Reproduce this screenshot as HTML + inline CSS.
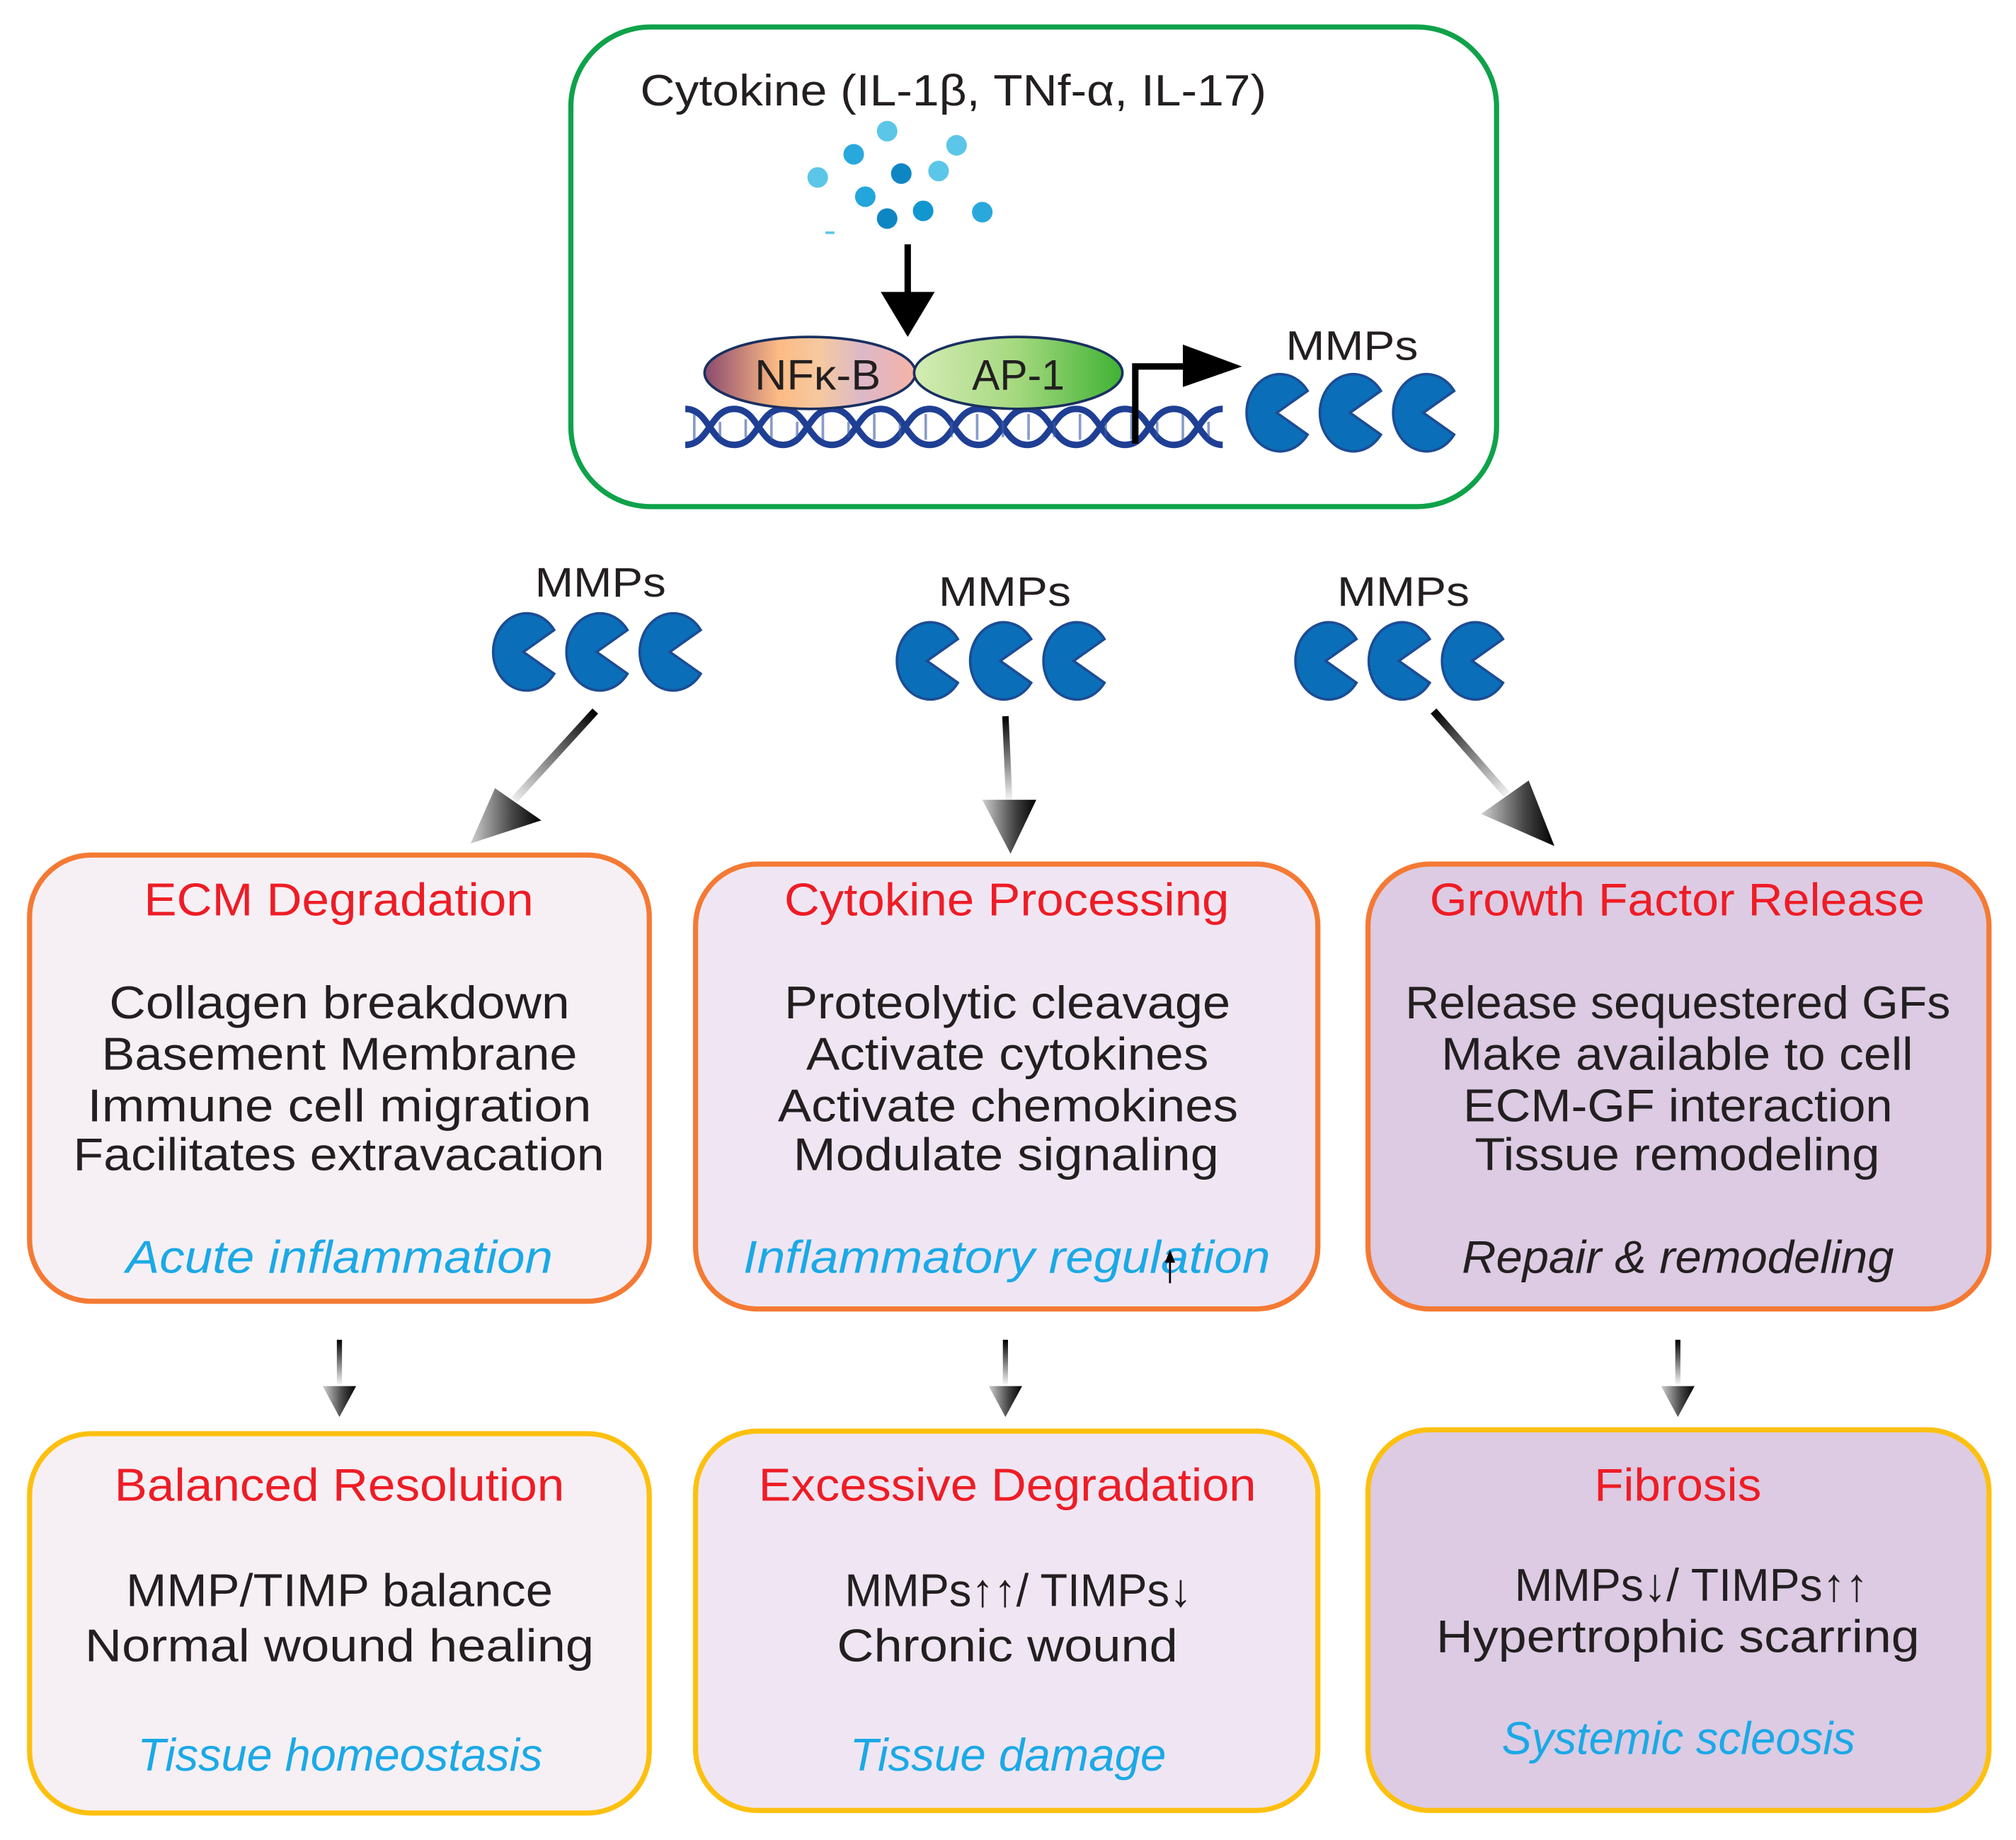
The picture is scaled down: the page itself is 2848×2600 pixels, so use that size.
<!DOCTYPE html>
<html><head><meta charset="utf-8"><style>
html,body{margin:0;padding:0;background:#fff;}
svg{display:block;}
text{font-family:"Liberation Sans",sans-serif;}
</style></head><body>
<svg width="2848" height="2600" viewBox="0 0 1568 1431" preserveAspectRatio="none" xmlns="http://www.w3.org/2000/svg">
<defs>
<linearGradient id="nfk" x1="0" x2="1" y1="0" y2="0">
<stop offset="0" stop-color="#8a4a6e"/><stop offset="0.35" stop-color="#fdbb84"/><stop offset="0.55" stop-color="#f5c9a0"/><stop offset="0.75" stop-color="#dcb8c8"/><stop offset="1" stop-color="#f7b3a6"/></linearGradient>
<linearGradient id="ap1" x1="0" x2="1" y1="0" y2="0">
<stop offset="0" stop-color="#d4ecb4"/><stop offset="0.5" stop-color="#a4d87e"/><stop offset="1" stop-color="#3fb234"/></linearGradient>
<linearGradient id="head" x1="0" x2="1" y1="0" y2="0">
<stop offset="0" stop-color="#cfcfcf"/><stop offset="0.6" stop-color="#444"/><stop offset="1" stop-color="#000"/></linearGradient>
<linearGradient id="g1" gradientUnits="userSpaceOnUse" x1="463" y1="553" x2="395" y2="627"><stop offset="0" stop-color="#000"/><stop offset="1" stop-color="#fff"/></linearGradient>
<linearGradient id="g2" gradientUnits="userSpaceOnUse" x1="782" y1="557" x2="785" y2="625"><stop offset="0" stop-color="#000"/><stop offset="1" stop-color="#fff"/></linearGradient>
<linearGradient id="g3" gradientUnits="userSpaceOnUse" x1="1115" y1="553" x2="1175" y2="622"><stop offset="0" stop-color="#000"/><stop offset="1" stop-color="#fff"/></linearGradient>
<linearGradient id="gs" gradientUnits="objectBoundingBox" x1="0" y1="0" x2="0" y2="1"><stop offset="0" stop-color="#000"/><stop offset="1" stop-color="#fff"/></linearGradient>
<g id="pac"><path d="M-2,0 L22,-17 A26,30 0 1 0 22,17 Z" fill="#0a6fb8" stroke="#1c4c95" stroke-width="2"/></g>
<g id="pacs"><use href="#pac" x="-57"/><use href="#pac" x="0"/><use href="#pac" x="57"/></g>
</defs>

<!-- top green box -->
<rect x="444" y="21" width="720" height="373" rx="62" fill="#fff" stroke="#0fa24a" stroke-width="4"/>
<text x="498" y="82" font-size="34" fill="#231f20" textLength="487" lengthAdjust="spacingAndGlyphs">Cytokine (IL-1β, TNf-α, IL-17)</text>
<g>
<circle cx="636" cy="138" r="8" fill="#5cc6e8"/>
<circle cx="664" cy="120" r="8" fill="#29a8dc"/>
<circle cx="690" cy="102" r="8" fill="#5cc6e8"/>
<circle cx="701" cy="135" r="8" fill="#0f86c4"/>
<circle cx="730" cy="133" r="8" fill="#5cc6e8"/>
<circle cx="744" cy="113" r="8" fill="#5cc6e8"/>
<circle cx="673" cy="153" r="8" fill="#22a6dc"/>
<circle cx="690" cy="170" r="8" fill="#0f86c4"/>
<circle cx="718" cy="164" r="8" fill="#1296d0"/>
<circle cx="764" cy="165" r="8" fill="#29a8dc"/>
<rect x="642" y="180" width="7" height="2" fill="#5cc6e8"/>
</g>
<line x1="706" y1="190" x2="706" y2="230" stroke="#000" stroke-width="5"/>
<polygon points="685,227 727,227 706,262" fill="#000"/>
<!-- DNA -->
<g fill="none" stroke="#1f3f94" stroke-width="5">
<path d="M533,318 C552,318 552,346 571,346 S590,318 609,318 S628,346 647,346 S666,318 685,318 S704,346 723,346 S742,318 761,318 S780,346 799,346 S818,318 837,318 S856,346 875,346 S894,318 913,318 S932,346 951,346"/>
<path d="M533,346 C552,346 552,318 571,318 S590,346 609,346 S628,318 647,318 S666,346 685,346 S704,318 723,318 S742,346 761,346 S780,318 799,318 S818,346 837,346 S856,318 875,318 S894,346 913,346 S932,318 951,318"/>
</g>
<g stroke="#3a5aa8" stroke-width="2" opacity="0.6">
<path d="M540,322v20M560,328v12M580,326v14M600,322v20M620,328v12M640,322v20M660,328v12M680,322v20M700,328v12M720,322v20M740,328v12M760,322v20M780,328v12M800,322v20M820,328v12M840,322v20M860,328v12M880,322v20M900,328v12M920,322v20M940,328v12"/>
</g>
<ellipse cx="630" cy="290" rx="82" ry="28" fill="url(#nfk)" stroke="#1a3060" stroke-width="2"/>
<ellipse cx="792" cy="290" rx="81" ry="28" fill="url(#ap1)" stroke="#1a3060" stroke-width="2"/>
<text x="636" y="303" font-size="33" text-anchor="middle" fill="#231f20" textLength="98" lengthAdjust="spacingAndGlyphs">NFκ-B</text>
<text x="792" y="303" font-size="33" text-anchor="middle" fill="#231f20" textLength="72" lengthAdjust="spacingAndGlyphs">AP-1</text>
<path d="M883,345 V285 H925" fill="none" stroke="#000" stroke-width="5"/>
<polygon points="920,268 966,285 920,301" fill="#000"/>
<text x="1000" y="280" font-size="32" fill="#231f20" textLength="103" lengthAdjust="spacingAndGlyphs">MMPs</text>
<use href="#pacs" x="1052" y="321"/>

<!-- MMP groups -->
<text x="416" y="464" font-size="32" fill="#231f20" textLength="102" lengthAdjust="spacingAndGlyphs">MMPs</text>
<use href="#pacs" x="466" y="507"/>
<text x="730" y="471" font-size="32" fill="#231f20" textLength="103" lengthAdjust="spacingAndGlyphs">MMPs</text>
<use href="#pacs" x="780" y="514"/>
<text x="1040" y="471" font-size="32" fill="#231f20" textLength="103" lengthAdjust="spacingAndGlyphs">MMPs</text>
<use href="#pacs" x="1090" y="514"/>

<!-- gradient arrows -->
<line x1="463" y1="553" x2="400" y2="622" stroke="url(#g1)" stroke-width="6"/>
<polygon points="385,613 421,638 366,656" fill="url(#head)"/>
<line x1="782" y1="557" x2="785" y2="625" stroke="url(#g2)" stroke-width="5"/>
<polygon points="764,622 806,622 786,664" fill="url(#head)"/>
<line x1="1115" y1="553" x2="1172" y2="618" stroke="url(#g3)" stroke-width="6"/>
<polygon points="1152,633 1189,607 1209,658" fill="url(#head)"/>

<!-- row 1 boxes -->
<rect x="23" y="665" width="482" height="347" rx="48" fill="#f6f0f5" stroke="#f47a34" stroke-width="4"/>
<rect x="541" y="672" width="484" height="346" rx="48" fill="#f0e6f3" stroke="#f47a34" stroke-width="4"/>
<rect x="1064" y="672" width="483" height="346" rx="48" fill="#dccbe3" stroke="#f47a34" stroke-width="4"/>
<!-- row 2 boxes -->
<rect x="23" y="1115" width="482" height="295" rx="48" fill="#f6f0f5" stroke="#fdc010" stroke-width="4"/>
<rect x="541" y="1113" width="484" height="295" rx="48" fill="#f0e6f3" stroke="#fdc010" stroke-width="4"/>
<rect x="1064" y="1112" width="483" height="296" rx="48" fill="#dccbe3" stroke="#fdc010" stroke-width="4"/>

<g font-size="36" fill="#ee1c25">
<text x="112" y="712" textLength="303" lengthAdjust="spacingAndGlyphs">ECM Degradation</text>
<text x="610" y="712" textLength="346" lengthAdjust="spacingAndGlyphs">Cytokine Processing</text>
<text x="1112" y="712" textLength="385" lengthAdjust="spacingAndGlyphs">Growth Factor Release</text>
<text x="89" y="1167" textLength="350" lengthAdjust="spacingAndGlyphs">Balanced Resolution</text>
<text x="590" y="1167" textLength="387" lengthAdjust="spacingAndGlyphs">Excessive Degradation</text>
<text x="1240" y="1167" textLength="130" lengthAdjust="spacingAndGlyphs">Fibrosis</text>
</g>
<g font-size="36" fill="#231f20">
<text x="85" y="792" textLength="358" lengthAdjust="spacingAndGlyphs">Collagen breakdown</text>
<text x="79" y="832" textLength="370" lengthAdjust="spacingAndGlyphs">Basement Membrane</text>
<text x="68" y="872" textLength="392" lengthAdjust="spacingAndGlyphs">Immune cell migration</text>
<text x="57" y="910" textLength="413" lengthAdjust="spacingAndGlyphs">Facilitates extravacation</text>
<text x="610" y="792" textLength="347" lengthAdjust="spacingAndGlyphs">Proteolytic cleavage</text>
<text x="627" y="832" textLength="313" lengthAdjust="spacingAndGlyphs">Activate cytokines</text>
<text x="605" y="872" textLength="358" lengthAdjust="spacingAndGlyphs">Activate chemokines</text>
<text x="617" y="910" textLength="331" lengthAdjust="spacingAndGlyphs">Modulate signaling</text>
<text x="1093" y="792" textLength="424" lengthAdjust="spacingAndGlyphs">Release sequestered GFs</text>
<text x="1121" y="832" textLength="367" lengthAdjust="spacingAndGlyphs">Make available to cell</text>
<text x="1138" y="872" textLength="334" lengthAdjust="spacingAndGlyphs">ECM-GF interaction</text>
<text x="1147" y="910" textLength="315" lengthAdjust="spacingAndGlyphs">Tissue remodeling</text>
<text x="98" y="1249" textLength="332" lengthAdjust="spacingAndGlyphs">MMP/TIMP balance</text>
<text x="66" y="1292" textLength="396" lengthAdjust="spacingAndGlyphs">Normal wound healing</text>
<text x="657" y="1249" textLength="270" lengthAdjust="spacingAndGlyphs">MMPs↑↑/ TIMPs↓</text>
<text x="651" y="1292" textLength="265" lengthAdjust="spacingAndGlyphs">Chronic wound</text>
<text x="1178" y="1245" textLength="275" lengthAdjust="spacingAndGlyphs">MMPs↓/ TIMPs↑↑</text>
<text x="1117" y="1285" textLength="376" lengthAdjust="spacingAndGlyphs">Hypertrophic scarring</text>
<text x="1137" y="990" font-style="italic" textLength="336" lengthAdjust="spacingAndGlyphs">Repair &amp; remodeling</text>
</g>
<g font-size="36" fill="#1ba9e6" font-style="italic">
<text x="98" y="990" textLength="332" lengthAdjust="spacingAndGlyphs">Acute inflammation</text>
<text x="578" y="990" textLength="410" lengthAdjust="spacingAndGlyphs">Inflammatory regulation</text>
<text x="107" y="1377" textLength="315" lengthAdjust="spacingAndGlyphs">Tissue homeostasis</text>
<text x="661" y="1377" textLength="246" lengthAdjust="spacingAndGlyphs">Tissue damage</text>
<text x="1168" y="1364" textLength="275" lengthAdjust="spacingAndGlyphs">Systemic scleosis</text>
</g>
<line x1="910" y1="998" x2="910" y2="978" stroke="#000" stroke-width="1.5"/>
<polygon points="906,982 914,982 910,972" fill="#000"/>

<!-- small arrows -->
<rect x="262" y="1042" width="4" height="36" fill="url(#gs)"/>
<polygon points="251,1078 277,1078 264,1102" fill="url(#head)"/>
<rect x="780" y="1042" width="4" height="36" fill="url(#gs)"/>
<polygon points="769,1078 795,1078 782,1102" fill="url(#head)"/>
<rect x="1303" y="1042" width="4" height="36" fill="url(#gs)"/>
<polygon points="1292,1078 1318,1078 1305,1102" fill="url(#head)"/>
</svg>
</body></html>
